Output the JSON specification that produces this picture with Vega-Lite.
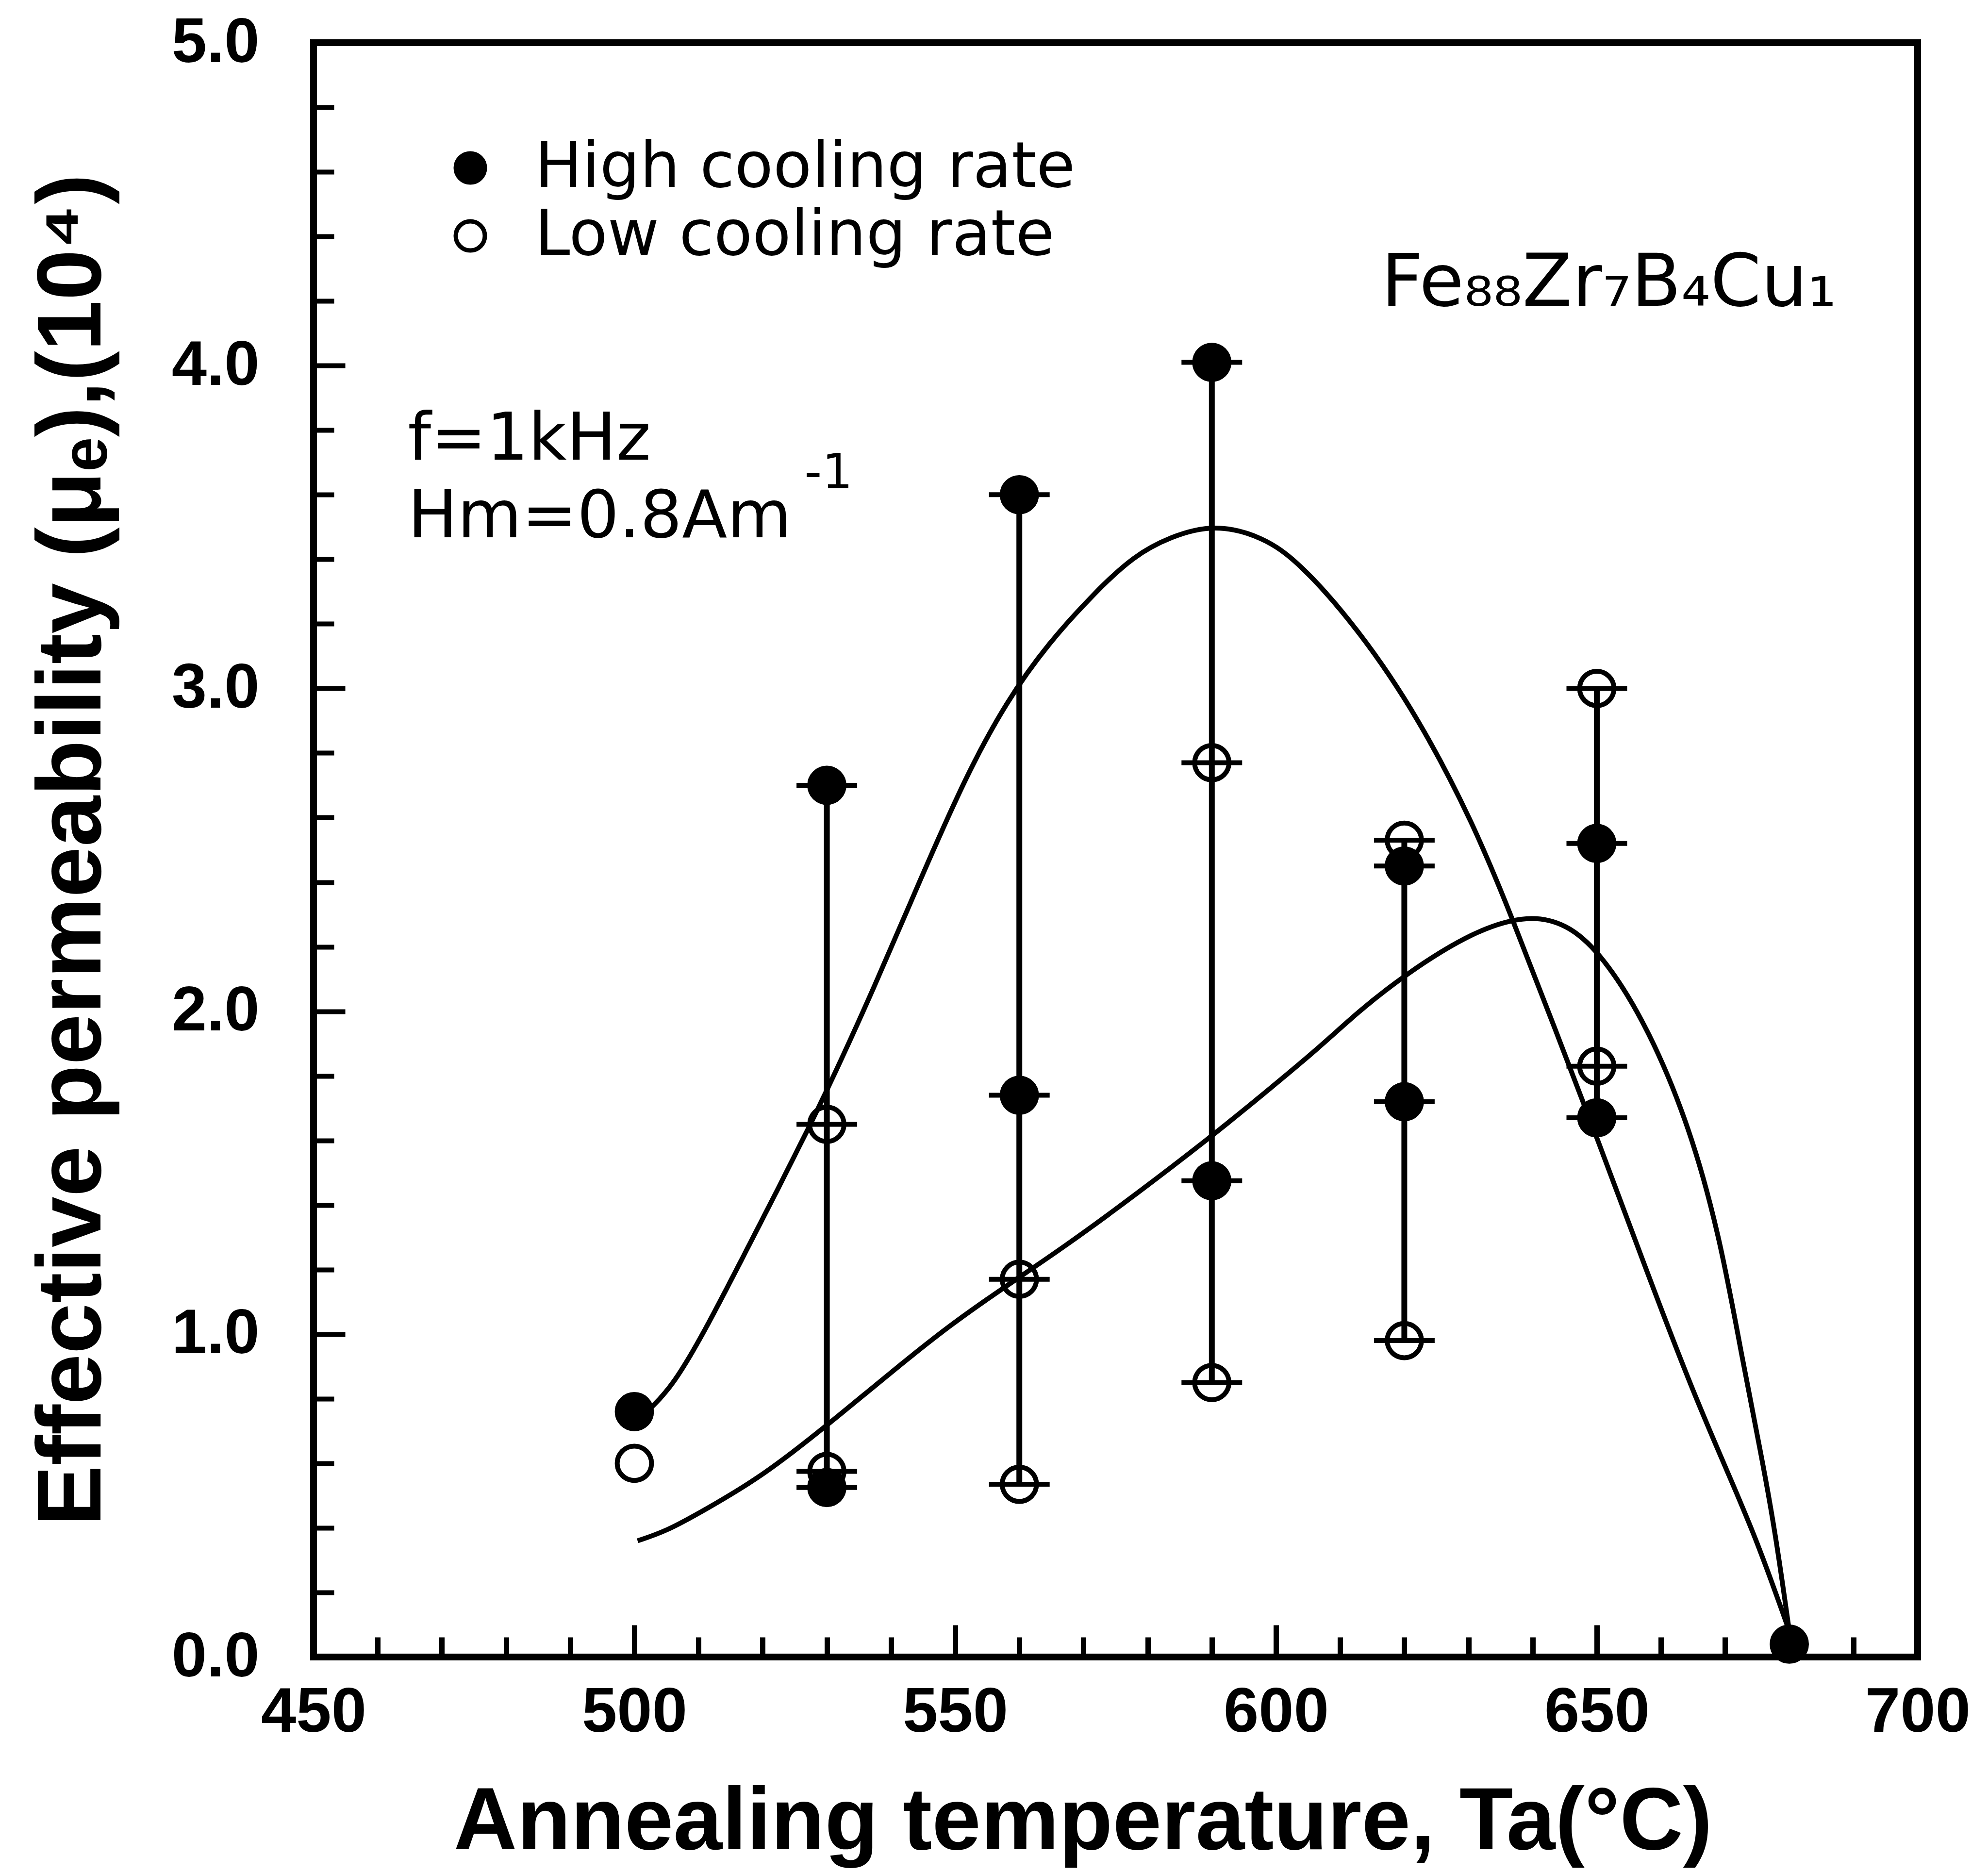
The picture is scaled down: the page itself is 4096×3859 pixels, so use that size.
{
  "$schema": "https://vega.github.io/schema/vega-lite/v6.json",
  "width": 3305,
  "height": 3326,
  "autosize": {"type": "none"},
  "padding": {"left": 646, "top": 88, "right": 145, "bottom": 445},
  "background": "white",
  "config": {
    "view": {"stroke": "black", "strokeWidth": 14, "fill": "white"}
  },
  "datasets": {
    "points": [
      {"T": 500, "v": 0.76, "series": "High cooling rate"},
      {"T": 530, "v": 2.70, "series": "High cooling rate"},
      {"T": 530, "v": 0.525, "series": "High cooling rate"},
      {"T": 560, "v": 3.60, "series": "High cooling rate"},
      {"T": 560, "v": 1.74, "series": "High cooling rate"},
      {"T": 590, "v": 4.01, "series": "High cooling rate"},
      {"T": 590, "v": 1.475, "series": "High cooling rate"},
      {"T": 620, "v": 2.45, "series": "High cooling rate"},
      {"T": 620, "v": 1.72, "series": "High cooling rate"},
      {"T": 650, "v": 2.52, "series": "High cooling rate"},
      {"T": 650, "v": 1.67, "series": "High cooling rate"},
      {"T": 680, "v": 0.04, "series": "High cooling rate"},
      {"T": 500, "v": 0.60, "series": "Low cooling rate"},
      {"T": 530, "v": 1.65, "series": "Low cooling rate"},
      {"T": 530, "v": 0.575, "series": "Low cooling rate"},
      {"T": 560, "v": 1.17, "series": "Low cooling rate"},
      {"T": 560, "v": 0.535, "series": "Low cooling rate"},
      {"T": 590, "v": 2.77, "series": "Low cooling rate"},
      {"T": 590, "v": 0.85, "series": "Low cooling rate"},
      {"T": 620, "v": 2.53, "series": "Low cooling rate"},
      {"T": 620, "v": 0.98, "series": "Low cooling rate"},
      {"T": 650, "v": 3.00, "series": "Low cooling rate"},
      {"T": 650, "v": 1.83, "series": "Low cooling rate"}
    ],
    "curves": [
      {"T": 502.5, "v": 0.77, "curve": "A"},
      {"T": 506.0, "v": 0.84, "curve": "A"},
      {"T": 511.0, "v": 1.01, "curve": "A"},
      {"T": 516.7, "v": 1.23, "curve": "A"},
      {"T": 522.4, "v": 1.45, "curve": "A"},
      {"T": 527.2, "v": 1.64, "curve": "A"},
      {"T": 531.1, "v": 1.80, "curve": "A"},
      {"T": 537.3, "v": 2.07, "curve": "A"},
      {"T": 544.6, "v": 2.41, "curve": "A"},
      {"T": 551.7, "v": 2.73, "curve": "A"},
      {"T": 558.0, "v": 2.96, "curve": "A"},
      {"T": 564.5, "v": 3.14, "curve": "A"},
      {"T": 571.9, "v": 3.30, "curve": "A"},
      {"T": 577.8, "v": 3.41, "curve": "A"},
      {"T": 583.5, "v": 3.47, "curve": "A"},
      {"T": 590.4, "v": 3.51, "curve": "A"},
      {"T": 598.0, "v": 3.47, "curve": "A"},
      {"T": 603.7, "v": 3.39, "curve": "A"},
      {"T": 613.0, "v": 3.18, "curve": "A"},
      {"T": 622.2, "v": 2.91, "curve": "A"},
      {"T": 630.8, "v": 2.58, "curve": "A"},
      {"T": 636.6, "v": 2.30, "curve": "A"},
      {"T": 643.4, "v": 1.95, "curve": "A"},
      {"T": 650.2, "v": 1.60, "curve": "A"},
      {"T": 657.3, "v": 1.22, "curve": "A"},
      {"T": 664.6, "v": 0.84, "curve": "A"},
      {"T": 670.0, "v": 0.59, "curve": "A"},
      {"T": 675.0, "v": 0.36, "curve": "A"},
      {"T": 680.0, "v": 0.08, "curve": "A"},
      {"T": 500.5, "v": 0.36, "curve": "B"},
      {"T": 505.0, "v": 0.39, "curve": "B"},
      {"T": 510.5, "v": 0.45, "curve": "B"},
      {"T": 520.0, "v": 0.56, "curve": "B"},
      {"T": 530.2, "v": 0.72, "curve": "B"},
      {"T": 540.5, "v": 0.89, "curve": "B"},
      {"T": 549.3, "v": 1.03, "curve": "B"},
      {"T": 558.0, "v": 1.15, "curve": "B"},
      {"T": 567.0, "v": 1.27, "curve": "B"},
      {"T": 578.0, "v": 1.43, "curve": "B"},
      {"T": 589.8, "v": 1.61, "curve": "B"},
      {"T": 597.2, "v": 1.73, "curve": "B"},
      {"T": 606.9, "v": 1.89, "curve": "B"},
      {"T": 612.3, "v": 1.99, "curve": "B"},
      {"T": 619.8, "v": 2.11, "curve": "B"},
      {"T": 630.8, "v": 2.25, "curve": "B"},
      {"T": 639.5, "v": 2.30, "curve": "B"},
      {"T": 645.3, "v": 2.27, "curve": "B"},
      {"T": 650.2, "v": 2.19, "curve": "B"},
      {"T": 657.3, "v": 1.98, "curve": "B"},
      {"T": 664.6, "v": 1.64, "curve": "B"},
      {"T": 669.4, "v": 1.28, "curve": "B"},
      {"T": 672.6, "v": 0.93, "curve": "B"},
      {"T": 675.5, "v": 0.64, "curve": "B"},
      {"T": 677.8, "v": 0.39, "curve": "B"},
      {"T": 680.0, "v": 0.08, "curve": "B"}
    ]
  },
  "layer": [
    {
      "data": {"name": "points"},
      "transform": [
        {"filter": "datum.T >= 530 && datum.T <= 650"},
        {"aggregate": [{"op": "min", "field": "v", "as": "v"}, {"op": "max", "field": "v", "as": "v2"}], "groupby": ["T"]}
      ],
      "mark": {"type": "rule", "color": "black", "strokeWidth": 12},
      "encoding": {
        "x": {"field": "T", "type": "quantitative", "scale": {"domain": [450, 700], "nice": false, "zero": false}},
        "y": {"field": "v", "type": "quantitative", "scale": {"domain": [0, 5], "nice": false, "zero": false}},
        "y2": {"field": "v2"}
      }
    },
    {
      "data": {"name": "curves"},
      "mark": {"type": "line", "color": "black", "strokeWidth": 10, "interpolate": "basis"},
      "encoding": {
        "x": {"field": "T", "type": "quantitative", "scale": {"domain": [450, 700], "nice": false, "zero": false}},
        "y": {"field": "v", "type": "quantitative", "scale": {"domain": [0, 5], "nice": false, "zero": false}},
        "detail": {"field": "curve", "type": "nominal"}
      }
    },
    {
      "data": {"name": "points"},
      "mark": {"type": "point", "shape": "circle", "size": 5000, "stroke": "black", "strokeWidth": 10, "opacity": 1, "fillOpacity": 1, "strokeOpacity": 1},
      "encoding": {
        "x": {
          "field": "T",
          "type": "quantitative",
          "scale": {"domain": [450, 700], "nice": false, "zero": false},
          "axis": {
            "values": [450,460,470,480,490,500,510,520,530,540,550,560,570,580,590,600,610,620,630,640,650,660,670,680,690,700],
            "labelExpr": "datum.value % 50 === 0 ? datum.label : ''",
            "format": "d",
            "domain": false,
            "grid": false,
            "ticks": true,
            "tickColor": "black",
            "tickWidth": 11,
            "tickSize": {"condition": {"test": "datum.value % 50 === 0", "value": -66}, "value": -41},
            "labelFont": "Liberation Sans",
            "labelFontWeight": "bold",
            "labelFontSize": 130,
            "labelColor": "black",
            "labelBaseline": "top",
            "labelAlign": "center",
            "labelPadding": 116,
            "labelFlush": false,
            "labelOverlap": false,
            "labelLimit": 0,
            "title": "Annealing temperature, Ta(°C)",
            "titleFont": "Liberation Sans",
            "titleFontWeight": "bold",
            "titleFontSize": 181,
            "titleColor": "black",
            "titleLimit": 0,
            "titleX": 1585,
            "titleY": 395,
            "titleBaseline": "alphabetic",
            "titleAlign": "center",
            "titleAnchor": null
          }
        },
        "y": {
          "field": "v",
          "type": "quantitative",
          "scale": {"domain": [0, 5], "nice": false, "zero": false},
          "axis": {
            "values": [0,0.2,0.4,0.6,0.8,1,1.2,1.4,1.6,1.8,2,2.2,2.4,2.6,2.8,3,3.2,3.4,3.6,3.8,4,4.2,4.4,4.6,4.8,5],
            "labelExpr": "abs(datum.value - round(datum.value)) < 0.001 ? format(datum.value, '.1f') : ''",
            "domain": false,
            "grid": false,
            "ticks": true,
            "tickColor": "black",
            "tickWidth": 10,
            "tickSize": {"condition": {"test": "abs(datum.value - round(datum.value)) < 0.001", "value": -65}, "value": -42},
            "labelFont": "Liberation Sans",
            "labelFontWeight": "bold",
            "labelFontSize": 130,
            "labelColor": "black",
            "labelBaseline": "middle",
            "labelAlign": "right",
            "labelPadding": 177,
            "labelFlush": false,
            "labelOverlap": false,
            "labelLimit": 0,
            "title": "Effective permeability (μₑ),(10⁴)",
            "titleFont": "Liberation Sans",
            "titleFontWeight": "bold",
            "titleFontSize": 188,
            "titleColor": "black",
            "titleLimit": 0,
            "titleAngle": -90,
            "titleX": -440,
            "titleY": 1663,
            "titleBaseline": "alphabetic",
            "titleAlign": "center",
            "titleAnchor": null
          }
        },
        "fill": {
          "field": "series",
          "type": "nominal",
          "scale": {"domain": ["High cooling rate", "Low cooling rate"], "range": ["black", "transparent"]},
          "legend": {
            "orient": "none",
            "legendX": 258,
            "legendY": 193,
            "title": null,
            "padding": 0,
            "labelFont": "DejaVu Sans",
            "labelFontSize": 130,
            "labelColor": "black",
            "labelOffset": 68,
            "labelLimit": 0,
            "rowPadding": 10,
            "symbolType": "circle",
            "symbolSize": 3600,
            "symbolStrokeWidth": 9,
            "symbolStrokeColor": "black",
            "symbolOpacity": 1
          }
        }
      }
    },
    {
      "data": {"name": "points"},
      "transform": [{"filter": "datum.T >= 530 && datum.T <= 650"}],
      "mark": {"type": "tick", "orient": "horizontal", "size": 125, "thickness": 10, "color": "black", "opacity": 1},
      "encoding": {
        "x": {"field": "T", "type": "quantitative", "scale": {"domain": [450, 700], "nice": false, "zero": false}},
        "y": {"field": "v", "type": "quantitative", "scale": {"domain": [0, 5], "nice": false, "zero": false}}
      }
    },
    {
      "data": {"values": [{}]},
      "mark": {"type": "text", "text": ["f=1kHz", "Hm=0.8Am"], "lineHeight": 160, "font": "DejaVu Sans", "fontSize": 136, "align": "left", "baseline": "alphabetic", "color": "black"},
      "encoding": {"x": {"datum": 464.7, "type": "quantitative"}, "y": {"datum": 3.708, "type": "quantitative"}}
    },
    {
      "data": {"values": [{}]},
      "mark": {"type": "text", "text": "-1", "font": "DejaVu Sans", "fontSize": 100, "align": "left", "baseline": "alphabetic", "color": "black"},
      "encoding": {"x": {"datum": 526.5, "type": "quantitative"}, "y": {"datum": 3.62, "type": "quantitative"}}
    },
    {
      "data": {"values": [{}]},
      "mark": {"type": "text", "text": "Fe₈₈Zr₇B₄Cu₁", "font": "DejaVu Sans", "fontSize": 150, "align": "left", "baseline": "alphabetic", "color": "black"},
      "encoding": {"x": {"datum": 616.4, "type": "quantitative"}, "y": {"datum": 4.185, "type": "quantitative"}}
    }
  ]
}
